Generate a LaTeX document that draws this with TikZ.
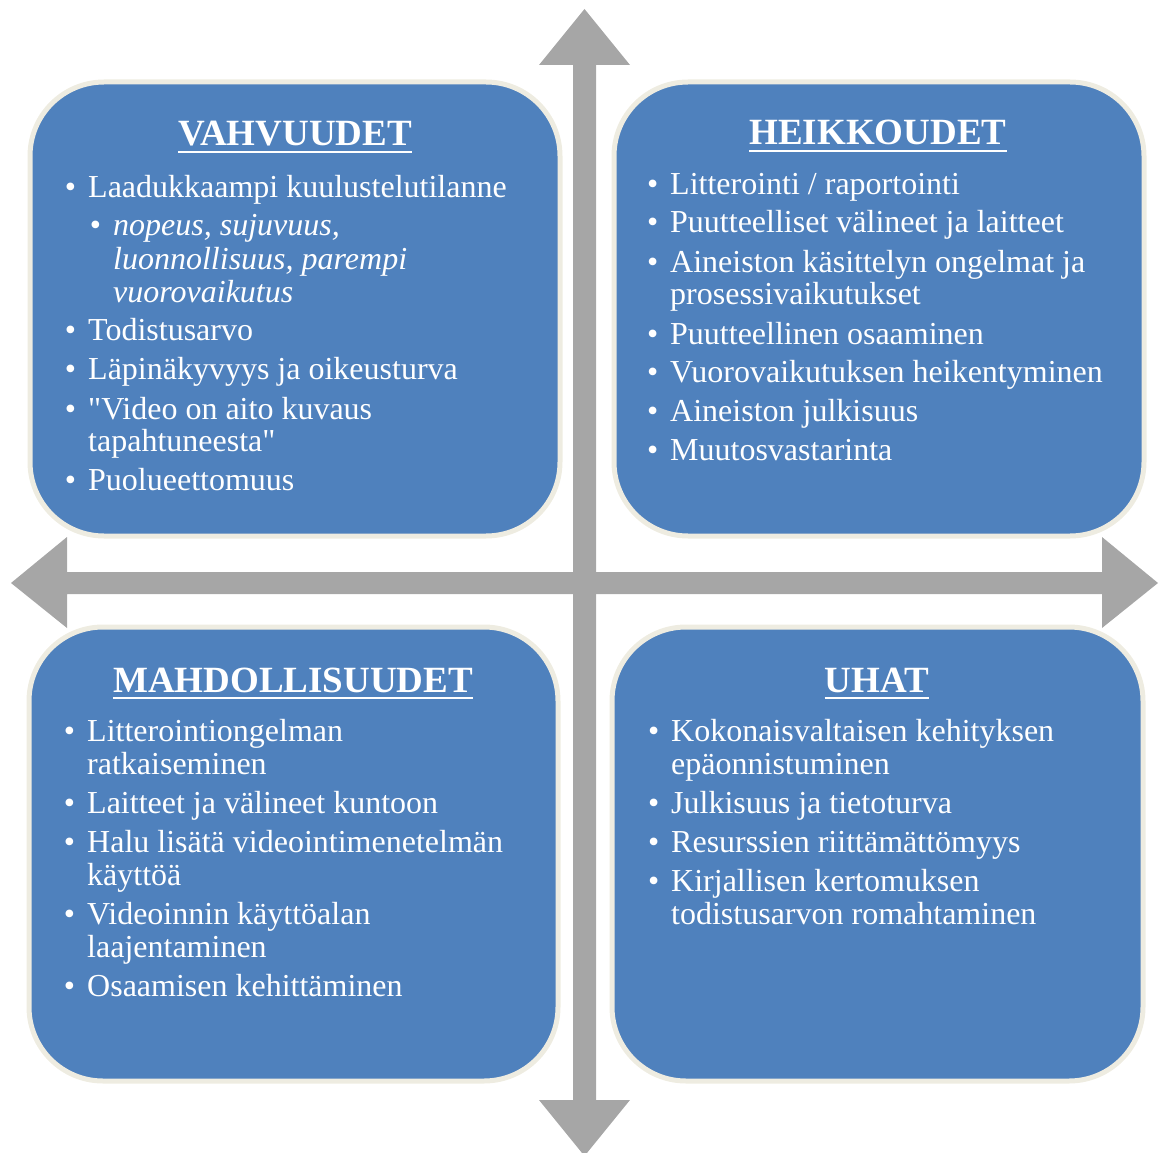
\documentclass[tikz,border=0pt]{standalone}
\usepackage{fontspec}
\setmainfont{Liberation Serif}
\usepackage{enumitem}
\definecolor{lohkosin}{HTML}{4F81BD}
\definecolor{reuna}{HTML}{EEECE1}
\definecolor{nuolenharmaa}{HTML}{A6A6A6}
\setlength{\parskip}{0pt}
\setlist[itemize,1]{label={•}, leftmargin=33pt, labelsep=12pt, topsep=0pt, partopsep=0pt, itemsep=6pt, parsep=0pt}
\setlist[itemize,2]{label={•}, leftmargin=25pt, labelsep=12pt, topsep=6pt, partopsep=0pt, itemsep=0pt, parsep=0pt, font=\normalfont}
\tikzset{
  lohko/.style={draw=reuna, line width=5pt, fill=lohkosin, rounded corners=74pt,
    minimum height=454pt, inner sep=0pt},
  otsikko/.style={text=white, inner sep=0pt, font=\fontsize{37}{40}\selectfont\bfseries},
  alleviiva/.style={white, line width=2.6pt},
  luettelo/.style={text=white, inner sep=0pt, anchor=base west, font=\fontsize{32}{33}\selectfont},
  nuoli/.style={fill=nuolenharmaa, draw=none}
}
\begin{document}
\begin{tikzpicture}[x=1pt, y=-1pt]
    \useasboundingbox (0,0) rectangle (1160,1153);
    % nuolet
    \fill[nuoli] (573,65) -- (539,65) -- (584.5,9) -- (630,65) -- (596,65)
        -- (596,1100) -- (630,1100) -- (584.5,1156) -- (539,1100) -- (573,1100) -- cycle;
    \fill[nuoli] (67,572) -- (67,537) -- (11,583) -- (67,628) -- (67,594)
        -- (1102,594) -- (1102,628) -- (1158,583) -- (1102,537) -- (1102,572) -- cycle;
    % lohkot
    \node[lohko, minimum width=530pt] (vahv) at (295,309) {};
    \node[lohko, minimum width=530pt] (heik) at (879,309) {};
    \node[lohko, minimum width=529pt] (mahd) at (293.5,854) {};
    \node[lohko, minimum width=531pt] (uhat) at (877.5,854) {};
    % otsikot
    \node[otsikko, anchor=base] (vahvo) at (295,146) {VAHVUUDET};
    \node[otsikko, anchor=base] (heiko) at (878,145) {HEIKKOUDET};
    \node[otsikko, anchor=base] (mahdo) at (293,692) {MAHDOLLISUUDET};
    \node[otsikko, anchor=base] (uhato) at (877,692) {UHAT};
    \foreach \o in {vahvo, heiko, mahdo, uhato}
        \draw[alleviiva] ([yshift=-6pt]\o.base west) -- ([yshift=-6pt]\o.base east);
    % luettelot
    \node[luettelo] (vahvl) at (55,197) {\begin{minipage}[t]{490pt}
      \begin{itemize}
        \item Laadukkaampi kuulustelutilanne
          \begin{itemize}
            \item \textit{nopeus, sujuvuus,\\ luonnollisuus, parempi\\ vuorovaikutus}
          \end{itemize}
        \item Todistusarvo
        \item Läpinäkyvyys ja oikeusturva
        \item \textquotedbl Video on aito kuvaus\\ tapahtuneesta\textquotedbl
        \item Puolueettomuus
      \end{itemize}\end{minipage}};
    \node[luettelo] (heikl) at (637,194) {\begin{minipage}[t]{490pt}
      \begin{itemize}
        \item Litterointi / raportointi
        \item Puutteelliset välineet ja laitteet
        \item Aineiston käsittelyn ongelmat ja\\ prosessivaikutukset
        \item Puutteellinen osaaminen
        \item Vuorovaikutuksen heikentyminen
        \item Aineiston julkisuus
        \item Muutosvastarinta
      \end{itemize}\end{minipage}};
    \node[luettelo] (mahdl) at (54,741) {\begin{minipage}[t]{490pt}
      \begin{itemize}
        \item Litterointiongelman\\ ratkaiseminen
        \item Laitteet ja välineet kuntoon
        \item Halu lisätä videointimenetelmän\\ käyttöä
        \item Videoinnin käyttöalan\\ laajentaminen
        \item Osaamisen kehittäminen
      \end{itemize}\end{minipage}};
    \node[luettelo] (uhatl) at (638,741) {\begin{minipage}[t]{490pt}
      \begin{itemize}
        \item Kokonaisvaltaisen kehityksen\\ epäonnistuminen
        \item Julkisuus ja tietoturva
        \item Resurssien riittämättömyys
        \item Kirjallisen kertomuksen\\ todistusarvon romahtaminen
      \end{itemize}\end{minipage}};
\end{tikzpicture}
\end{document}
